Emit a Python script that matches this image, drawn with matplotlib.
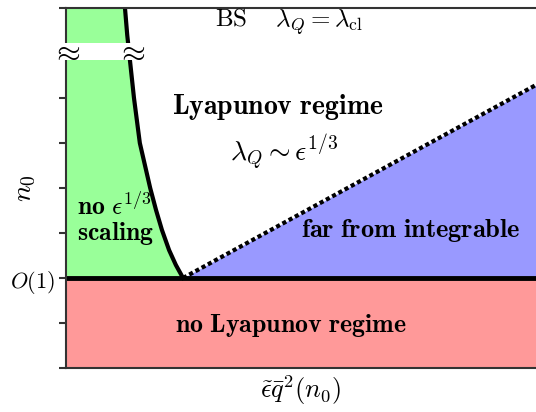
import numpy as np
import matplotlib.pyplot as plt
from matplotlib.patches import Rectangle

plt.rcParams['mathtext.fontset'] = 'cm'
plt.rcParams['font.family'] = 'serif'
plt.rcParams['font.serif'] = ['DejaVu Serif']

# boundary curve of the "no eps^{1/3} scaling" region (x, y in axis units)
curve_x = [1.31, 1.36, 1.42, 1.51, 1.64, 1.87, 2.00, 2.13, 2.29, 2.44, 2.60]
curve_y = [8.00, 7.40, 6.84, 6.00, 5.00, 4.00, 3.51, 3.07, 2.62, 2.29, 2.00]

# dotted boundary of the "far from integrable" region
dot_x = [2.60, 10.44]
dot_y = [2.00, 6.29]

o1 = 2.0          # O(1) level
xmax, ymax = 10.44, 8.0
yticks = [0, 1, 2, 3, 4, 5, 6, 7, 8]

green = '#99ff99'
blue = '#9999ff'
red = '#ff9999'

fig = plt.figure(figsize=(5.36, 4.12), dpi=100)
ax = fig.add_axes([66/536, 44/412, 470/536, 360/412])
ax.set_xlim(0, xmax)
ax.set_ylim(0, ymax)

# regions
ax.fill_between([0, xmax], 0, o1, color=red, lw=0)
ax.fill_betweenx(curve_y, 0, curve_x, color=green, lw=0)
ax.fill_between(dot_x, o1, dot_y, color=blue, lw=0)

# boundaries
ax.plot(curve_x, curve_y, color='black', lw=3, solid_joinstyle='round')
ax.plot(dot_x, dot_y, color='black', lw=3, ls=(0, (1, 0.7)))
ax.axhline(o1, color='black', lw=3.5)

# axis break
ax.add_patch(Rectangle((-0.1, 6.85), 3.0, 0.38, facecolor='white', edgecolor='none',
                       zorder=5, clip_on=False))
ax.text(0, 7.04, r'$\approx$', fontsize=22, ha='center', va='center', zorder=6)
ax.text(1.43, 7.04, r'$\approx$', fontsize=22, ha='center', va='center', zorder=6)

for s in ['left', 'bottom', 'top']:
    ax.spines[s].set_color('#333333')
    ax.spines[s].set_linewidth(1.5)
ax.spines['right'].set_visible(False)

ax.set_xticks([])
ax.set_yticks(yticks)
ax.set_yticklabels(['' if t != 2 else r'$O(1)$' for t in yticks], fontsize=16)
ax.tick_params(axis='y', length=5, width=1.5, color='#333333', pad=3)

ax.set_xlabel(r'$\tilde{\epsilon}\bar{q}^2(n_0)$', fontsize=19, labelpad=4)
ax.set_ylabel(r'$n_0$', fontsize=20)
ax.yaxis.set_label_coords(-28/470, 0.5)

# labels
ax.text(4.95, 7.69, r'$\mathrm{BS}\ \ \ \ \lambda_Q = \lambda_{\rm cl}$', fontsize=18,
        ha='center', va='center')
ax.text(4.7, 5.8, r'$\mathbf{Lyapunov\ regime}$', fontsize=20, ha='center', va='center')
ax.text(4.85, 4.78, r'$\lambda_Q \sim \epsilon^{1/3}$', fontsize=20, ha='center', va='center')
ax.text(0.24, 3.6, r'$\mathbf{no}\ \epsilon^{1/3}$', fontsize=18.5, ha='left', va='center')
ax.text(0.24, 3.0, r'$\mathbf{scaling}$', fontsize=18.5, ha='left', va='center')
ax.text(7.65, 3.05, r'$\mathbf{far\ from\ integrable}$', fontsize=19, ha='center', va='center')
ax.text(5.0, 0.95, r'$\mathbf{no\ Lyapunov\ regime}$', fontsize=18.6, ha='center', va='center')

fig.savefig('out.png', dpi=100)
